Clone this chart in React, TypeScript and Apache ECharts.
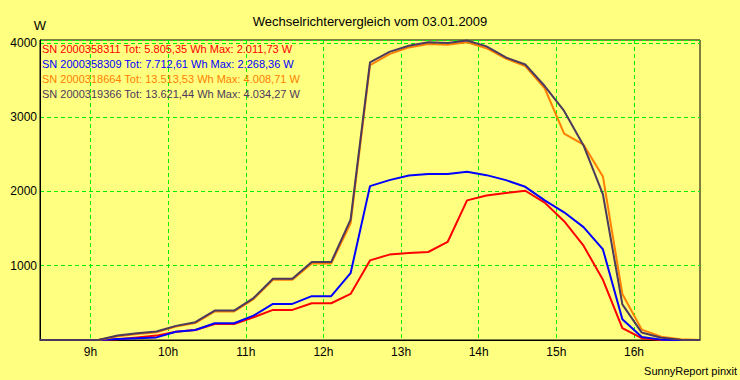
import React, { useEffect, useRef } from "react";
import * as echarts from "echarts";

// Time of each reading, decimal hours (15-minute readings from 8:21 to 16:51)
const times = [
  8.35, 8.6, 8.85, 9.1, 9.35, 9.6, 9.85, 10.1, 10.35, 10.6, 10.85, 11.1,
  11.35, 11.6, 11.85, 12.1, 12.35, 12.6, 12.85, 13.1, 13.35, 13.6, 13.85,
  14.1, 14.35, 14.6, 14.85, 15.1, 15.35, 15.6, 15.85, 16.1, 16.35, 16.6, 16.85,
];

const serials = ["2000358311", "2000358309", "2000318664", "2000319366"];
const totals = ["5.805,35", "7.712,61", "13.513,53", "13.621,44"];
const maxima = ["2.011,73", "2.268,36", "4.008,71", "4.034,27"];
const colors = ["#ff0000", "#0000ff", "#ff8000", "#4b3a5c"];

const hourTicks = [9, 10, 11, 12, 13, 14, 15, 16];

// Power in W
const sn8311 = [
  0, 0, 0, 0, 10, 35, 59, 110, 135, 216, 216, 306, 405, 405, 495, 495, 621,
  1072, 1150, 1170, 1185, 1320, 1880, 1945, 1980, 2010, 1850, 1600, 1270, 810,
  160, 25, 0, 0, 0,
];
const sn8309 = [
  0, 0, 0, 0, 15, 25, 35, 110, 135, 225, 225, 328, 486, 486, 590, 590, 900,
  2072, 2153, 2215, 2234, 2236, 2265, 2220, 2153, 2063, 1880, 1720, 1520, 1220,
  280, 40, 5, 0, 0,
];
const sn8664 = [
  0, 0, 0, 0, 50, 80, 105, 180, 228, 385, 385, 550, 810, 810, 1030, 1030, 1570,
  3700, 3850, 3940, 3985, 3975, 4009, 3930, 3790, 3690, 3390, 2780, 2630, 2200,
  620, 140, 45, 10, 0,
];
const sn9366 = [
  0, 0, 0, 0, 60, 90, 115, 190, 240, 396, 396, 565, 824, 824, 1049, 1049, 1620,
  3740, 3880, 3963, 4010, 4000, 4034, 3954, 3805, 3710, 3420, 3085, 2620, 1960,
  480, 100, 30, 5, 0,
];

const allValues = [sn8311, sn8309, sn8664, sn9366];

const FONT = "Liberation Sans";

export default function App() {
  const ref = useRef<HTMLDivElement>(null);

  useEffect(() => {
    if (!ref.current) return;
    const chart = echarts.init(ref.current, null, { renderer: "svg" });

    const names = serials.map(
      (s, i) => `SN ${s} Tot: ${totals[i]} Wh Max: ${maxima[i]} W`
    );

    const series = allValues.map((vals, i) => ({
      name: names[i],
      type: "line",
      data: vals.map((v, j) => [times[j], v]),
      showSymbol: false,
      symbol: "none",
      lineStyle: { color: colors[i], width: 2 },
      itemStyle: { color: colors[i] },
      z: 2 + i,
    }));

    chart.setOption({
      animation: false,
      backgroundColor: "#ffff80",
      textStyle: { fontFamily: FONT },
      title: {
        text: "Wechselrichtervergleich vom 03.01.2009",
        left: "center",
        top: 10,
        textStyle: {
          fontSize: 13,
          fontWeight: "normal",
          color: "#000",
          fontFamily: FONT,
        },
      },
      legend: {
        orient: "vertical",
        left: 37,
        top: 42,
        icon: "none",
        itemWidth: 0,
        itemHeight: 13,
        itemGap: 3,
        padding: 0,
        selectedMode: false,
        data: names.map((n, i) => ({
          name: n,
          textStyle: { color: colors[i], fontSize: 11, fontFamily: FONT },
        })),
      },
      grid: {
        left: 40,
        right: 40,
        top: 40,
        bottom: 40,
        show: true,
        backgroundColor: "#ffff80",
        borderColor: "#000",
        borderWidth: 1,
      },
      xAxis: {
        type: "value",
        min: times[0],
        max: times[times.length - 1],
        axisLine: { show: true, lineStyle: { color: "#000", width: 1 } },
        axisTick: { show: false, customValues: hourTicks },
        axisLabel: {
          customValues: hourTicks,
          formatter: (v: number) =>
            Number.isInteger(v) && hourTicks.includes(v) ? `${v}h` : "",
          color: "#000",
          fontSize: 12,
          fontFamily: FONT,
          margin: 6,
        },
        splitLine: {
          show: true,
          lineStyle: { color: "#00ee00", type: [4, 3], width: 1 },
        },
      },
      yAxis: {
        type: "value",
        min: 0,
        max: 4040,
        interval: 1000,
        name: "W",
        nameLocation: "end",
        nameGap: 8,
        nameTextStyle: {
          color: "#000",
          fontSize: 13,
          fontFamily: FONT,
          align: "center",
        },
        axisLine: { show: true, lineStyle: { color: "#000", width: 1 } },
        axisTick: { show: false },
        axisLabel: {
          formatter: (v: number) =>
            v > 0 && v % 1000 === 0 ? String(v) : "",
          color: "#000",
          fontSize: 12,
          fontFamily: FONT,
          margin: 3,
        },
        splitLine: {
          show: true,
          lineStyle: { color: "#00ee00", type: [4, 3], width: 1 },
        },
      },
      graphic: [
        {
          type: "text",
          right: 3,
          top: 365,
          style: {
            text: "SunnyReport pinxit",
            fill: "#000",
            fontSize: 11,
            fontFamily: FONT,
          },
        },
      ],
      series,
    });

    return () => chart.dispose();
  }, []);

  return (
    <div
      ref={ref}
      style={{ position: "fixed", left: 0, top: 0, width: 740, height: 380 }}
    />
  );
}
